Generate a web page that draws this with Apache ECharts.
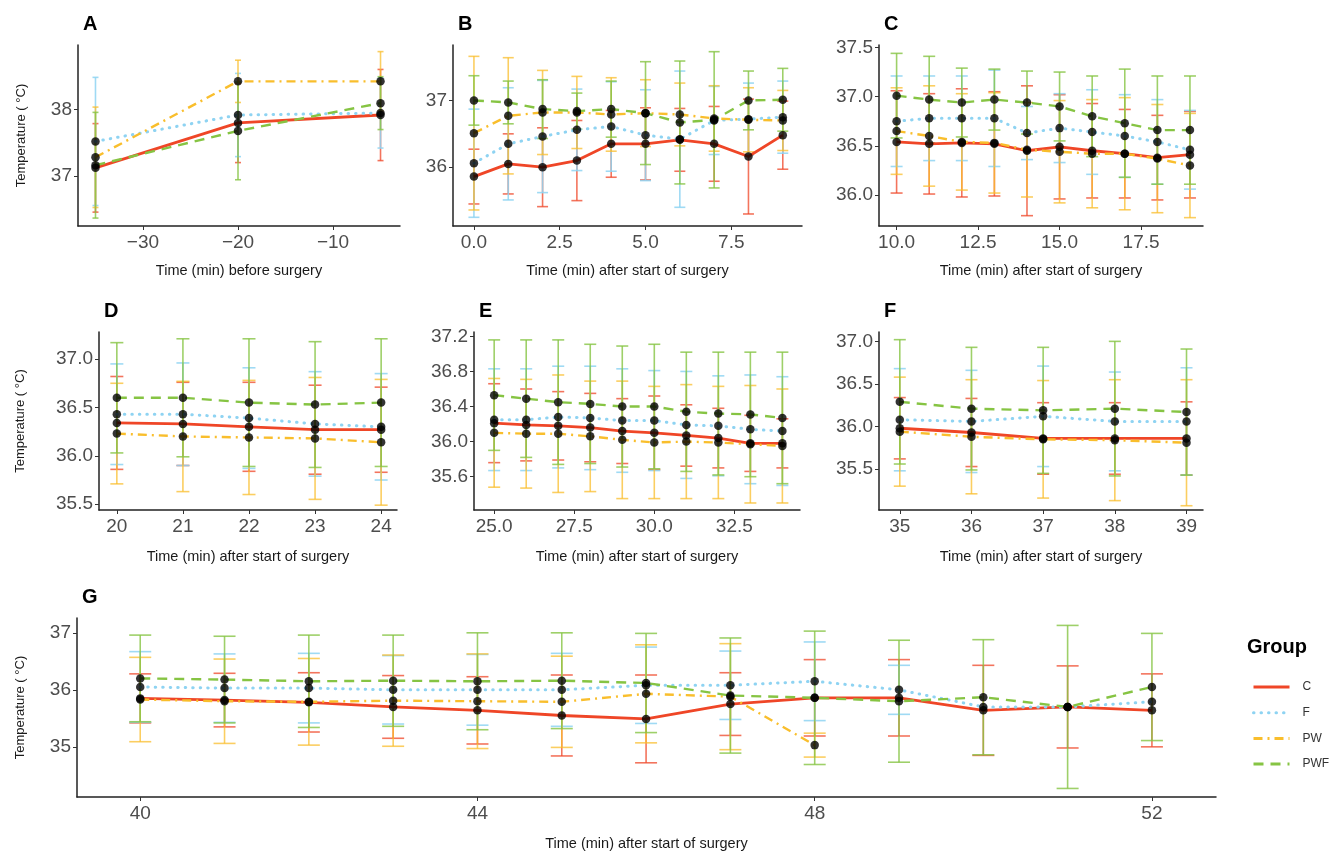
<!DOCTYPE html>
<html>
<head>
<meta charset="utf-8">
<title>Temperature by group</title>
<script src="https://cdn.jsdelivr.net/npm/echarts@6/dist/echarts.min.js"></script>
<style>
  html, body { margin: 0; background: #fff; }
  #chart { width: 1340px; height: 853px; }
</style>
</head>
<body>
<div id="chart"></div>
<script>
// groups and colours
const groups = ['C', 'F', 'PW', 'PWF']

// A: before surgery
const timeA = [-35, -20, -5]
const A_C = [37.12, 37.80, 37.92]
const A_C_sd = [0.67, 0.60, 0.69]
const A_F = [37.52, 37.92, 37.95]
const A_F_sd = [0.97, 0.63, 0.53]
const A_PW = [37.28, 38.43, 38.43]
const A_PW_sd = [0.76, 0.32, 0.45]
const A_PWF = [37.16, 37.68, 38.10]
const A_PWF_sd = [0.80, 0.74, 0.40]

// B: 0-9 min
const timeB = [0, 1, 2, 3, 4, 5, 6, 7, 8, 9]
const B_C = [35.86, 36.05, 36.00, 36.10, 36.35, 36.35, 36.41, 36.35, 36.16, 36.48]
const B_C_sd = [0.41, 0.45, 0.59, 0.60, 0.50, 0.54, 0.47, 0.56, 0.86, 0.51]
const B_F = [36.06, 36.35, 36.46, 36.56, 36.61, 36.48, 36.42, 36.70, 36.72, 36.75]
const B_F_sd = [0.81, 0.84, 0.84, 0.61, 0.67, 0.68, 1.02, 0.51, 0.54, 0.54]
const B_PW = [36.51, 36.77, 36.82, 36.82, 36.79, 36.81, 36.79, 36.73, 36.71, 36.70]
const B_PW_sd = [1.15, 0.87, 0.63, 0.54, 0.55, 0.50, 0.47, 0.49, 0.48, 0.45]
const B_PWF = [37.00, 36.97, 36.87, 36.84, 36.87, 36.81, 36.67, 36.71, 37.00, 37.01]
const B_PWF_sd = [0.37, 0.32, 0.44, 0.27, 0.42, 0.77, 0.92, 1.02, 0.44, 0.47]

// C: 10-19 min
const timeC = [10, 11, 12, 13, 14, 15, 16, 17, 18, 19]
const C_C = [36.54, 36.52, 36.53, 36.52, 36.45, 36.49, 36.45, 36.42, 36.38, 36.41]
const C_C_sd = [0.52, 0.51, 0.55, 0.53, 0.66, 0.53, 0.48, 0.45, 0.43, 0.44]
const C_F = [36.75, 36.78, 36.78, 36.78, 36.63, 36.68, 36.64, 36.60, 36.54, 36.46]
const C_F_sd = [0.46, 0.43, 0.43, 0.49, 0.27, 0.35, 0.43, 0.42, 0.43, 0.40]
const C_PW = [36.65, 36.60, 36.54, 36.53, 36.46, 36.44, 36.42, 36.42, 36.37, 36.30]
const C_PW_sd = [0.44, 0.51, 0.49, 0.51, 0.48, 0.52, 0.55, 0.57, 0.55, 0.53]
const C_PWF = [37.01, 36.97, 36.94, 36.97, 36.94, 36.90, 36.80, 36.73, 36.66, 36.66]
const C_PWF_sd = [0.43, 0.44, 0.35, 0.31, 0.32, 0.35, 0.41, 0.55, 0.55, 0.55]

// D: 20-24 min
const timeD = [20, 21, 22, 23, 24]
const D_C = [36.34, 36.33, 36.30, 36.27, 36.27]
const D_C_sd = [0.48, 0.43, 0.46, 0.46, 0.44]
const D_F = [36.43, 36.43, 36.39, 36.33, 36.30]
const D_F_sd = [0.52, 0.53, 0.52, 0.54, 0.55]
const D_PW = [36.23, 36.20, 36.19, 36.18, 36.14]
const D_PW_sd = [0.52, 0.57, 0.59, 0.63, 0.65]
const D_PWF = [36.60, 36.60, 36.55, 36.53, 36.55]
const D_PWF_sd = [0.57, 0.61, 0.66, 0.65, 0.66]

// E: 25-34 min
const timeE = [25, 26, 27, 28, 29, 30, 31, 32, 33, 34]
const E_C = [36.21, 36.19, 36.18, 36.16, 36.12, 36.10, 36.07, 36.04, 35.98, 35.98]
const E_C_sd = [0.45, 0.41, 0.39, 0.39, 0.37, 0.42, 0.35, 0.34, 0.32, 0.28]
const E_F = [36.25, 36.25, 36.28, 36.27, 36.24, 36.24, 36.19, 36.18, 36.14, 36.12]
const E_F_sd = [0.58, 0.58, 0.58, 0.59, 0.59, 0.57, 0.61, 0.57, 0.62, 0.62]
const E_PW = [36.10, 36.09, 36.09, 36.06, 36.02, 35.99, 36.00, 35.99, 35.97, 35.95]
const E_PW_sd = [0.62, 0.62, 0.67, 0.63, 0.67, 0.64, 0.65, 0.64, 0.67, 0.65]
const E_PWF = [36.53, 36.49, 36.45, 36.43, 36.40, 36.40, 36.34, 36.32, 36.31, 36.27]
const E_PWF_sd = [0.63, 0.67, 0.71, 0.68, 0.69, 0.71, 0.68, 0.70, 0.71, 0.75]

// F: 35-39 min
const timeF = [35, 36, 37, 38, 39]
const F_C = [35.98, 35.93, 35.86, 35.86, 35.86]
const F_C_sd = [0.36, 0.40, 0.42, 0.42, 0.43]
const F_F = [36.08, 36.06, 36.12, 36.06, 36.06]
const F_F_sd = [0.60, 0.60, 0.59, 0.58, 0.63]
const F_PW = [35.94, 35.88, 35.85, 35.84, 35.81]
const F_PW_sd = [0.64, 0.67, 0.69, 0.71, 0.74]
const F_PWF = [36.29, 36.21, 36.19, 36.21, 36.17]
const F_PWF_sd = [0.73, 0.72, 0.74, 0.79, 0.74]

// G: 40-52 min (PW stops at 48, F has no spread after 49)
const timeG = [40, 41, 42, 43, 44, 45, 46, 47, 48, 49, 50, 51, 52]
const G_C = [35.85, 35.82, 35.78, 35.70, 35.64, 35.55, 35.49, 35.75, 35.86, 35.86, 35.64, 35.70, 35.64]
const G_C_sd = [0.43, 0.47, 0.52, 0.55, 0.59, 0.71, 0.77, 0.55, 0.67, 0.67, 0.79, 0.72, 0.64]
const G_F = [36.05, 36.03, 36.03, 36.00, 36.00, 36.00, 36.08, 36.08, 36.15, 36.00, 35.70, 35.70, 35.79]
const G_F_sd = [0.62, 0.60, 0.61, 0.60, 0.62, 0.64, 0.67, 0.60, 0.69, 0.43, null, null, null]
const G_PW = [35.83, 35.80, 35.79, 35.81, 35.80, 35.79, 35.93, 35.88, 35.03]
const G_PW_sd = [0.74, 0.74, 0.76, 0.80, 0.83, 0.80, 0.86, 0.93, 0.21]
const G_PWF = [36.20, 36.18, 36.15, 36.16, 36.15, 36.16, 36.12, 35.90, 35.86, 35.80, 35.87, 35.70, 36.05]
const G_PWF_sd = [0.76, 0.76, 0.81, 0.80, 0.85, 0.84, 0.87, 1.01, 1.17, 1.07, 1.01, 1.43, 0.94]

// tick labels
const ticksX_A = [-30, -20, -10]
const ticksY_A = [37, 38]
const ticksX_B = [0, 2.5, 5, 7.5]
const ticksY_B = [36, 37]
const ticksX_C = [10, 12.5, 15, 17.5]
const ticksY_C = [36, 36.5, 37, 37.5]
const ticksX_D = [20, 21, 22, 23, 24]
const ticksY_D = [35.5, 36, 36.5, 37]
const ticksX_E = [25, 27.5, 30, 32.5]
const ticksY_E = [35.6, 36, 36.4, 36.8, 37.2]
const ticksX_F = [35, 36, 37, 38, 39]
const ticksY_F = [35.5, 36, 36.5, 37]
const ticksX_G = [40, 44, 48, 52]
const ticksY_G = [35, 36, 37]

const colors = { C: '#EF4627', F: '#8ED3F2', PW: '#F9BE2C', PWF: '#86C443' }
const barColors = {
  C: 'rgba(239,70,39,0.75)',
  F: 'rgba(142,211,242,0.85)',
  PW: 'rgba(249,190,44,0.75)',
  PWF: 'rgba(134,196,67,0.8)'
}
const lineTypes = {
  C: { type: 'solid', width: 2.8 },
  F: { type: [0.5, 7], width: 3, cap: 'round' },
  PW: { type: [9, 5, 2, 5], width: 2.4 },
  PWF: { type: [10, 7], width: 2.4 }
}

const font = 'Liberation Sans, Arial, Helvetica, sans-serif'
const xTitleBefore = 'Time (min) before surgery'
const xTitleAfter = 'Time (min) after start of surgery'
const yTitle = 'Temperature ( °C)'

const panels = [
  { label: 'A', time: timeA, mean: [A_C, A_F, A_PW, A_PWF], sd: [A_C_sd, A_F_sd, A_PW_sd, A_PWF_sd], tx: ticksX_A, ty: ticksY_A,
    left: 78, top: 45, width: 322, height: 181, xMin: -36.84, xMax: -2.95, yMin: 36.24, yMax: 38.98, xDec: 0, yDec: 0, cap: 6, xName: xTitleBefore, yName: true },
  { label: 'B', time: timeB, mean: [B_C, B_F, B_PW, B_PWF], sd: [B_C_sd, B_F_sd, B_PW_sd, B_PWF_sd], tx: ticksX_B, ty: ticksY_B,
    left: 453, top: 45, width: 349, height: 181, xMin: -0.61, xMax: 9.56, yMin: 35.12, yMax: 37.83, xDec: 1, yDec: 0, cap: 11, xName: xTitleAfter },
  { label: 'C', time: timeC, mean: [C_C, C_F, C_PW, C_PWF], sd: [C_C_sd, C_F_sd, C_PW_sd, C_PWF_sd], tx: ticksX_C, ty: ticksY_C,
    left: 879, top: 45, width: 324, height: 181, xMin: 9.46, xMax: 19.4, yMin: 35.685, yMax: 37.525, xDec: 1, yDec: 1, cap: 12, xName: xTitleAfter },
  { label: 'D', time: timeD, mean: [D_C, D_F, D_PW, D_PWF], sd: [D_C_sd, D_F_sd, D_PW_sd, D_PWF_sd], tx: ticksX_D, ty: ticksY_D,
    left: 99, top: 332, width: 298, height: 178, xMin: 19.73, xMax: 24.24, yMin: 35.44, yMax: 37.28, xDec: 0, yDec: 1, cap: 13, xName: xTitleAfter, yName: true },
  { label: 'E', time: timeE, mean: [E_C, E_F, E_PW, E_PWF], sd: [E_C_sd, E_F_sd, E_PW_sd, E_PWF_sd], tx: ticksX_E, ty: ticksY_E,
    left: 474, top: 332, width: 326, height: 178, xMin: 24.37, xMax: 34.55, yMin: 35.22, yMax: 37.25, xDec: 1, yDec: 1, cap: 12, xName: xTitleAfter },
  { label: 'F', time: timeF, mean: [F_C, F_F, F_PW, F_PWF], sd: [F_C_sd, F_F_sd, F_PW_sd, F_PWF_sd], tx: ticksX_F, ty: ticksY_F,
    left: 879, top: 332, width: 324, height: 178, xMin: 34.71, xMax: 39.23, yMin: 35.02, yMax: 37.11, xDec: 0, yDec: 1, cap: 12, xName: xTitleAfter },
  { label: 'G', time: timeG, mean: [G_C, G_F, G_PW, G_PWF], sd: [G_C_sd, G_F_sd, G_PW_sd, G_PWF_sd], tx: ticksX_G, ty: ticksY_G,
    left: 77, top: 618, width: 1139, height: 179, xMin: 39.25, xMax: 52.76, yMin: 34.12, yMax: 37.26, xDec: 0, yDec: 0, cap: 22, xName: xTitleAfter, yName: true }
]

function fmt (dec) {
  return function (v) {
    return Number(v).toFixed(dec).replace('-', '\u2212')
  }
}

function errorBar (color, capPx) {
  return function (params, api) {
    const x = api.value(0)
    const top = api.coord([x, api.value(2)])
    const bot = api.coord([x, api.value(1)])
    const style = { stroke: color, lineWidth: 1.6 }
    const h = capPx / 2
    return {
      type: 'group',
      children: [
        { type: 'line', shape: { x1: top[0], y1: top[1], x2: bot[0], y2: bot[1] }, style: style },
        { type: 'line', shape: { x1: top[0] - h, y1: top[1], x2: top[0] + h, y2: top[1] }, style: style },
        { type: 'line', shape: { x1: bot[0] - h, y1: bot[1], x2: bot[0] + h, y2: bot[1] }, style: style }
      ]
    }
  }
}

const grid = []
const xAxis = []
const yAxis = []
const series = []
const title = []

panels.forEach((p, k) => {
  grid.push({ left: p.left, top: p.top, width: p.width, height: p.height, containLabel: false })
  title.push({ text: p.label, left: p.left, top: p.top - 36, textStyle: { fontFamily: font, fontSize: 20, fontWeight: 'bold', color: '#000' } })
  xAxis.push({
    type: 'value', gridIndex: k, min: p.xMin, max: p.xMax,
    name: p.xName, nameLocation: 'middle', nameGap: k < 3 ? 37 : 39,
    nameTextStyle: { fontFamily: font, fontSize: 14.5, color: '#1a1a1a' },
    axisLine: { show: true, onZero: false, lineStyle: { color: '#222', width: 1.5 } },
    axisTick: { show: true, length: 4, customValues: p.tx, lineStyle: { color: '#333' } },
    axisLabel: { customValues: p.tx, formatter: fmt(p.xDec), fontFamily: font, fontSize: 19, color: '#4d4d4d', margin: 7 },
    splitLine: { show: false }
  })
  yAxis.push({
    type: 'value', gridIndex: k, min: p.yMin, max: p.yMax,
    name: p.yName ? yTitle : '', nameLocation: 'middle', nameRotate: 90, nameGap: p.label === 'D' ? 72 : 50,
    nameTextStyle: { fontFamily: font, fontSize: 13, color: '#1a1a1a' },
    axisLine: { show: true, onZero: false, lineStyle: { color: '#222', width: 1.5 } },
    axisTick: { show: true, length: 4, customValues: p.ty, lineStyle: { color: '#333' } },
    axisLabel: { customValues: p.ty, formatter: fmt(p.yDec), fontFamily: font, fontSize: 19, color: '#4d4d4d', margin: 6 },
    splitLine: { show: false }
  })

  // error bars
  groups.forEach((g, gi) => {
    const m = p.mean[gi]
    const s = p.sd[gi]
    const bars = []
    m.forEach((v, i) => {
      if (v != null && s[i] != null) bars.push([p.time[i], v - s[i], v + s[i]])
    })
    series.push({
      type: 'custom', name: g + ' sd', xAxisIndex: k, yAxisIndex: k, z: 1,
      renderItem: errorBar(barColors[g], p.cap),
      encode: { x: 0, y: [1, 2] },
      data: bars, silent: true
    })
  })
  // mean lines
  groups.forEach((g, gi) => {
    const m = p.mean[gi]
    series.push({
      type: 'line', name: g, xAxisIndex: k, yAxisIndex: k, z: 2,
      symbol: 'none', showSymbol: false,
      itemStyle: { color: colors[g] },
      lineStyle: { color: colors[g], width: lineTypes[g].width, type: lineTypes[g].type, cap: lineTypes[g].cap || 'butt' },
      data: m.map((v, i) => [p.time[i], v]),
      silent: true
    })
  })
  // points
  const pts = []
  groups.forEach((g, gi) => {
    p.mean[gi].forEach((v, i) => { if (v != null) pts.push([p.time[i], v]) })
  })
  series.push({
    type: 'scatter', name: 'pts' + p.label, xAxisIndex: k, yAxisIndex: k, z: 3,
    symbol: 'circle', symbolSize: 8.5, itemStyle: { color: '#000' },
    data: pts, silent: true
  })
})

title.push({ text: 'Group', left: 1242, top: 632, textStyle: { fontFamily: font, fontSize: 20, fontWeight: 'bold', color: '#000' } })

const chart = echarts.init(document.getElementById('chart'))
chart.setOption({
  animation: false,
  backgroundColor: '#fff',
  title: title,
  legend: {
    data: groups, orient: 'vertical', left: 1247, top: 676,
    itemWidth: 36, itemHeight: 14, itemGap: 13.7,
    itemStyle: { opacity: 0 },
    lineStyle: { width: 3 },
    textStyle: { fontFamily: font, fontSize: 12, color: '#333', padding: [0, 0, 0, 8] },
    selectedMode: false
  },
  grid: grid,
  xAxis: xAxis,
  yAxis: yAxis,
  series: series
})
</script>
</body>
</html>
